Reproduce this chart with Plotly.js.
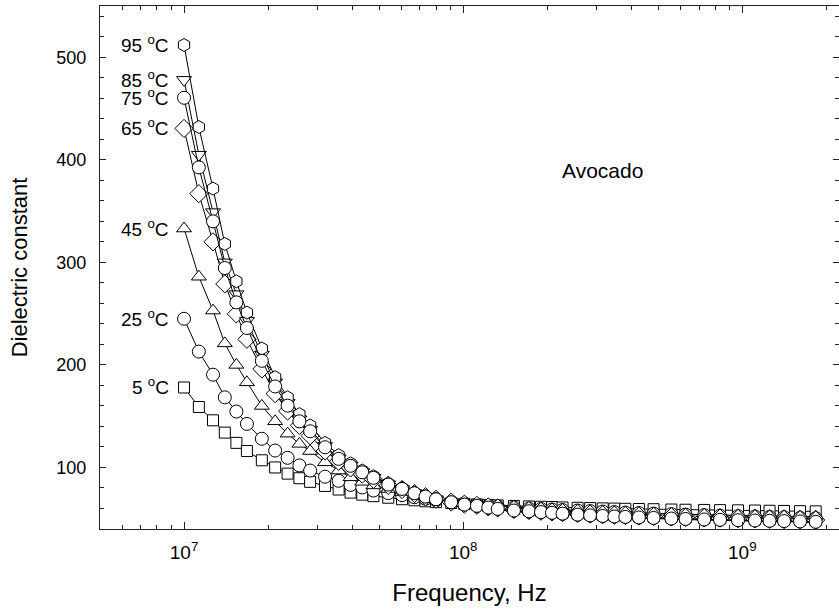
<!DOCTYPE html>
<html><head><meta charset="utf-8">
<script src="https://cdn.plot.ly/plotly-3.0.1.min.js"></script>
<style>html,body{margin:0;padding:0;background:#fff}#chart{width:839px;height:612px}</style>
</head><body><div id="chart"></div>
<script>
// Frequency in MHz
const freqMHz = [10, 11.3, 12.7, 14.0, 15.4, 16.8, 19.0, 21.2, 23.5, 25.9, 28.3, 32.0, 35.8, 39.5, 43.5, 47.7, 53.9, 60.4, 66.9, 73.3, 79.9, 90.6, 101, 112, 123, 133, 152, 172, 190, 208, 227, 257, 285, 316, 348, 381, 426, 481, 557, 626, 730, 832, 965, 1110, 1252, 1411, 1610, 1832];

const eps5  = [178, 159, 146, 134, 124, 116, 107, 100, 94, 89.5, 86, 82, 78.5, 75.5, 73.5, 72, 70.5, 69, 68, 67, 66.2, 65.3, 64.5, 64, 63.5, 63, 62.5, 62, 61.7, 61.4, 61, 60.7, 60.4, 60.1, 59.9, 59.7, 59.5, 59.3, 59, 58.8, 58.6, 58.4, 58.2, 58, 57.8, 57.6, 57.4, 57.2];
const eps25 = [245, 213, 190.5, 168.4, 154.5, 142.5, 128, 116.5, 109.4, 102, 97, 91, 87, 83, 80.5, 77.5, 75, 73, 71, 69.5, 68, 66.5, 65, 63.8, 62.8, 62, 61, 60, 59.5, 59, 58.5, 58, 57.5, 57, 56.5, 56, 55.5, 55, 54.5, 54, 53.5, 53, 52.5, 52.2, 51.8, 51.5, 51, 50.5];
const eps45 = [333, 286, 253, 221, 200, 183, 160, 145, 133, 123, 116, 105, 97, 90.4, 86, 82.5, 79, 76, 73.5, 71.5, 69.5, 67.5, 66, 64.8, 63.7, 62.8, 61.5, 60.5, 59.7, 59, 58.3, 57.5, 57, 56.5, 56, 55.7, 55.3, 55, 54.6, 54.3, 54, 53.7, 53.4, 53.1, 52.8, 52.5, 52.2, 52];
const eps65 = [430.6, 367, 320, 279, 249.7, 225, 196, 172, 155, 141, 131, 116, 106, 99.5, 93.5, 88.5, 82.5, 78.5, 74.5, 71.5, 69, 66.3, 64.2, 63, 61.5, 60.5, 59, 58, 57.3, 56.6, 56, 55.2, 54.6, 54, 53.6, 53.2, 52.8, 52.4, 52, 51.5, 51.1, 50.7, 50.3, 50, 49.7, 49.4, 49.1, 48.8];
const eps75 = [460.5, 392.6, 340, 294.5, 261, 236, 204, 179, 160.3, 145, 135.3, 119.7, 108.4, 101.6, 95.3, 89.9, 83.3, 79.1, 74.9, 71.6, 69, 66.1, 63.8, 62.6, 60.9, 59.6, 58, 57.3, 56.5, 55.8, 55, 54, 53.3, 52.7, 52.2, 51.8, 51.3, 50.8, 50.2, 49.8, 49.3, 49, 48.6, 48.3, 48, 47.7, 47.4, 47];
const eps85 = [478, 405, 349, 300, 269, 243, 210, 183, 163, 147, 137, 121, 109, 102, 95.5, 90, 83.5, 79, 75, 71.5, 69, 66, 63.7, 62.4, 60.7, 59.4, 57.8, 57, 56.2, 55.5, 54.7, 53.8, 53, 52.4, 51.9, 51.5, 51, 50.5, 49.9, 49.5, 49, 48.7, 48.3, 48, 47.7, 47.4, 47.1, 46.8];
const eps95 = [512, 432, 372, 318, 281.5, 251, 216, 188, 168.4, 152, 141, 124, 112, 104, 97, 91.5, 84.5, 80, 75.5, 72, 69.5, 66, 63.7, 62, 60.5, 59.3, 57.5, 56.5, 55.7, 55, 54.2, 53.3, 52.6, 52, 51.5, 51.1, 50.6, 50.1, 49.6, 49.2, 48.7, 48.4, 48, 47.7, 47.4, 47.1, 46.8, 46.5];

const tempLabels = ['5', '25', '45', '65', '75', '85', '95'];
const xTickVals = [1e7, 1e8, 1e9];
const xTickText = ['10<sup>7</sup>', '10<sup>8</sup>', '10<sup>9</sup>'];
const xMinorVals = [5e6, 6e6, 7e6, 8e6, 9e6, 2e7, 3e7, 4e7, 5e7, 6e7, 7e7, 8e7, 9e7, 2e8, 3e8, 4e8, 5e8, 6e8, 7e8, 8e8, 9e8, 2e9];
const yTickVals = [100, 200, 300, 400, 500];

const freqHz = freqMHz.map(f => f * 1e6);
const seriesData = {
  '5':  {y: eps5,  symbol: 'square', size: 11},
  '25': {y: eps25, symbol: 'circle', size: 13},
  '45': {y: eps45, symbol: 'triangle-up', size: 13},
  '65': {y: eps65, symbol: 'diamond', size: 14},
  '75': {y: eps75, symbol: 'circle', size: 13},
  '85': {y: eps85, symbol: 'triangle-down', size: 13},
  '95': {y: eps95, symbol: 'hexagon', size: 13}
};
const drawOrder = ['5', '25', '45', '65', '85', '95', '75'];

const FONT = 'Arial, Liberation Sans, sans-serif';

const traces = drawOrder.map(k => ({
  x: freqHz, y: seriesData[k].y, type: 'scatter', mode: 'lines+markers',
  name: k + ' °C',
  line: {color: '#000', width: 1},
  marker: {symbol: seriesData[k].symbol, size: seriesData[k].size, color: '#fff', line: {color: '#000', width: 1}},
  showlegend: false, cliponaxis: false
}));

const annotations = tempLabels.map(k => ({
  x: Math.log10(freqHz[0]), y: seriesData[k].y[0], xref: 'x', yref: 'y',
  text: k + ' <sup>o</sup>C', showarrow: false, xanchor: 'right', yanchor: 'middle',
  xshift: -13, yshift: 1, font: {family: FONT, size: 19, color: '#000'}
}));
annotations.push({
  x: 0.68, y: 0.685, xref: 'paper', yref: 'paper', text: 'Avocado', showarrow: false,
  xanchor: 'center', yanchor: 'middle', font: {family: FONT, size: 21, color: '#000'}
});

const layout = {
  width: 839, height: 612,
  margin: {l: 100, r: 0, t: 6, b: 83},
  paper_bgcolor: '#fff', plot_bgcolor: '#fff',
  font: {family: FONT, color: '#000', size: 18},
  xaxis: {
    type: 'log', range: [Math.log10(5e6), Math.log10(2.22e9)],
    tickmode: 'array', tickvals: xTickVals, ticktext: xTickText,
    ticks: 'inside', ticklen: 7, tickwidth: 1, tickcolor: '#222',
    showline: true, linecolor: '#222', linewidth: 1, mirror: 'ticks',
    showgrid: false, zeroline: false,
    minor: {tickmode: 'array', tickvals: xMinorVals, ticks: 'inside', ticklen: 4, tickcolor: '#222', showgrid: false},
    tickfont: {size: 19},
    ticklabelstandoff: 6,
    title: {text: 'Frequency, Hz', font: {size: 24}, standoff: 22}
  },
  yaxis: {
    range: [40, 550],
    tickmode: 'array', tickvals: yTickVals,
    ticks: 'inside', ticklen: 6, tickwidth: 1, tickcolor: '#222',
    showline: true, linecolor: '#222', linewidth: 1, mirror: 'ticks',
    showgrid: false, zeroline: false,
    minor: {dtick: 20, ticks: 'inside', ticklen: 4, tickcolor: '#222', showgrid: false},
    tickfont: {size: 18},
    ticklabelstandoff: 9,
    title: {text: 'Dielectric constant', font: {size: 22}, standoff: 22}
  },
  annotations: annotations
};

Plotly.newPlot('chart', traces, layout, {displayModeBar: false, staticPlot: true});
</script>
</body></html>
